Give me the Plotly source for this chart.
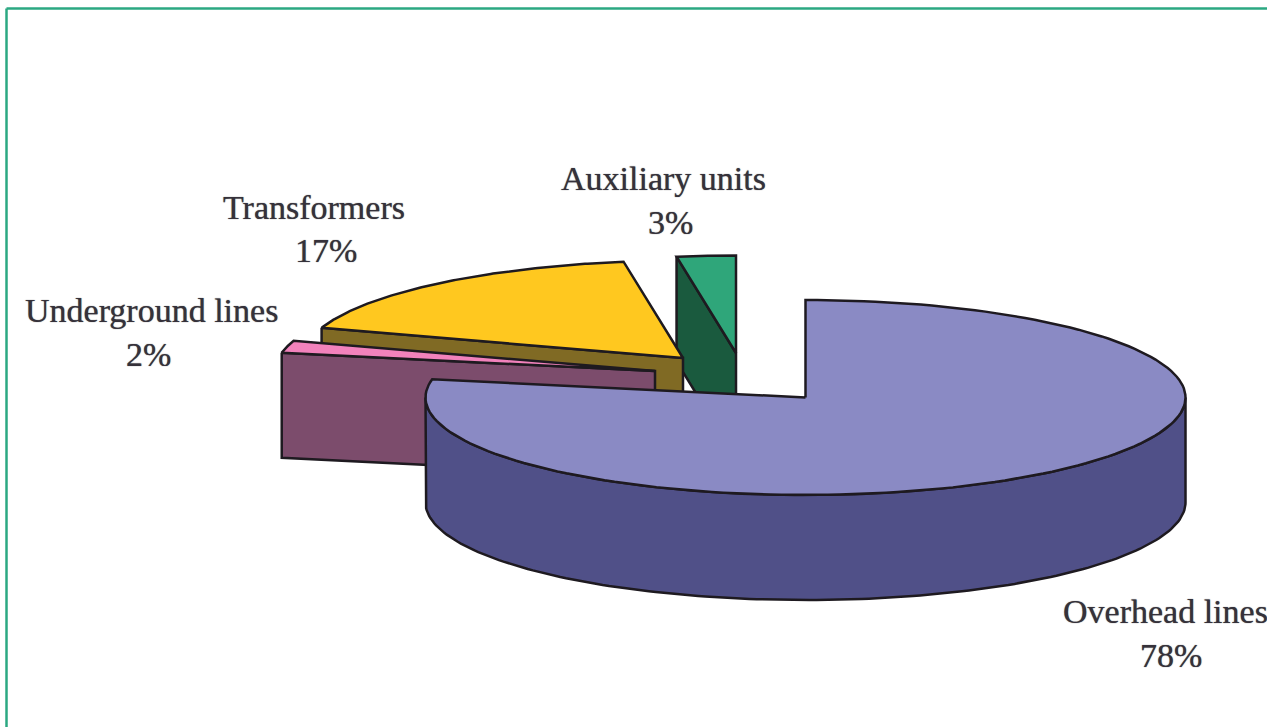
import numpy as np
import plotly.graph_objects as go

# Data
categories = ["Overhead lines", "Underground lines", "Transformers", "Auxiliary units"]
shares = [78.0, 2.0, 17.5, 2.5]
percent_labels = ["78%", "2%", "17%", "3%"]

# Appearance
W, H = 1267, 727
RX, RY, DEPTH = 380.0, 97.5, 105.0
tips = {"Overhead lines": (805.5, 397.5), "Underground lines": (655.0, 371.0),
        "Transformers": (683.0, 358.0), "Auxiliary units": (736.0, 353.0)}
top_colors = {"Overhead lines": "#8A8AC4", "Underground lines": "#F282BC",
              "Transformers": "#FFC81F", "Auxiliary units": "#2FA67A"}
side_colors = {"Overhead lines": "#505088", "Underground lines": "#7C4C6C",
               "Transformers": "#806A24", "Auxiliary units": "#1A5A3E"}
name_pos = {"Overhead lines": (1165, 611), "Underground lines": (151, 310),
            "Transformers": (314, 207), "Auxiliary units": (663, 178)}
pct_pos = {"Overhead lines": (1171, 655), "Underground lines": (148, 354),
           "Transformers": (326, 250), "Auxiliary units": (670, 222)}
LINE = "#1E1A20"
TEXT = "#35313A"
LABEL_FONT = dict(family="Liberation Serif", size=34, color=TEXT, shadow="0px 0px 1px #555")

fractions = np.array(shares) / sum(shares)
ends = np.cumsum(fractions) * 2 * np.pi
starts = ends - fractions * 2 * np.pi


def arc(cx, cy, a0, a1, n=160, dy=0.0):
    t = np.linspace(a0, a1, n)
    return cx + RX * np.sin(t), cy - RY * np.cos(t) + dy


def poly(fig, xs, ys, color, name):
    fig.add_trace(go.Scatter(x=list(xs), y=list(ys), mode="lines", fill="toself",
                             fillcolor=color, line=dict(color=LINE, width=2.5),
                             hoverinfo="skip", showlegend=False, name=name))


fig = go.Figure()

# back to front: auxiliary, transformers, underground, overhead
for i in [3, 2, 1, 0]:
    cat = categories[i]
    cx, cy = tips[cat]
    a0, a1 = starts[i], ends[i]
    ax, ay = arc(cx, cy, a0, a1)
    side = side_colors[cat]
    if cat == "Overhead lines":
        # outer wall, visible from the right extreme round to the left extreme
        wx, wy = arc(cx, cy, np.pi / 2, 3 * np.pi / 2)
        bx, by = arc(cx, cy, np.pi / 2, 3 * np.pi / 2, dy=DEPTH)
        poly(fig, np.r_[wx, bx[::-1], wx[0]], np.r_[wy, by[::-1], wy[0]], side, cat + " wall")
    else:
        # cut face on the starting edge of the slice
        ex, ey = ax[0], ay[0]
        poly(fig, [ex, cx, cx, ex, ex], [ey, cy, cy + DEPTH, ey + DEPTH, ey], side, cat + " cut")
    poly(fig, np.r_[cx, ax, cx], np.r_[cy, ay, cy], top_colors[cat], cat)

# Text labels
for cat, pct in zip(categories, percent_labels):
    for text, (x, y) in ((cat, name_pos[cat]), (pct, pct_pos[cat])):
        fig.add_annotation(x=x, y=y, text=text, showarrow=False,
                           xanchor="center", yanchor="middle", align="center",
                           font=LABEL_FONT)

# Frame
frame = dict(color="#2BA882", width=2.5)
fig.add_shape(type="line", x0=6.5, x1=6.5, y0=8.5, y1=H, line=frame, layer="above")
fig.add_shape(type="line", x0=6.5, x1=W, y0=8.5, y1=8.5, line=frame, layer="above")

axis = dict(visible=False, fixedrange=True)
fig.update_layout(width=W, height=H, margin=dict(l=0, r=0, t=0, b=0),
                  paper_bgcolor="white", plot_bgcolor="white", showlegend=False,
                  xaxis=dict(range=[0, W], **axis),
                  yaxis=dict(range=[H, 0], **axis))

fig.write_html("out.html", config={"displayModeBar": False},
               post_script="document.body.style.margin='0';")
